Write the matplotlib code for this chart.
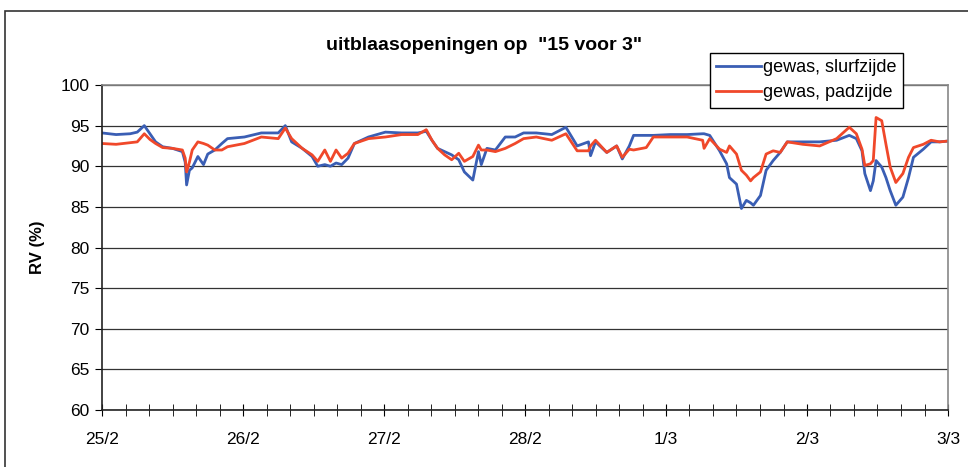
import matplotlib
matplotlib.use("Agg")
import matplotlib.pyplot as plt
from matplotlib.patches import Rectangle
from matplotlib.ticker import MultipleLocator

plt.rcParams['font.family'] = ['Liberation Sans', 'DejaVu Sans']

# time in days since 25/2 00:00
days = [0.00, 0.10, 0.20, 0.25, 0.30, 0.34, 0.38, 0.43, 0.50, 0.57, 0.59, 0.60, 0.62, 0.64,
        0.68, 0.72, 0.75, 0.80, 0.85, 0.89, 1.01, 1.13, 1.25, 1.30, 1.345, 1.42, 1.49, 1.53,
        1.58, 1.62, 1.66, 1.70, 1.745, 1.79, 1.89, 2.01, 2.125, 2.24, 2.30, 2.34, 2.38, 2.43,
        2.48, 2.53, 2.57, 2.63, 2.67, 2.69, 2.73, 2.79, 2.86, 2.93, 2.99, 3.08, 3.19, 3.29,
        3.37, 3.45, 3.465, 3.50, 3.58, 3.65, 3.69, 3.74, 3.77, 3.86, 3.91, 4.03, 4.15, 4.26,
        4.27, 4.31, 4.38, 4.43, 4.45, 4.50, 4.535, 4.57, 4.60, 4.62, 4.67, 4.71, 4.76, 4.81,
        4.86, 4.97, 5.09, 5.21, 5.30, 5.35, 5.39, 5.41, 5.45, 5.47, 5.49, 5.53, 5.56, 5.59,
        5.63, 5.68, 5.72, 5.755, 5.825, 5.88, 5.94, 6.00]

slurfzijde = [94.1, 93.9, 94.0, 94.2, 95.0, 94.0, 93.0, 92.4, 92.2, 91.8, 90.5, 87.7, 89.5, 89.8,
              91.2, 90.2, 91.5, 92.0, 92.8, 93.4, 93.6, 94.1, 94.1, 95.0, 93.0, 92.2, 91.2, 90.0,
              90.2, 90.0, 90.4, 90.2, 91.0, 92.8, 93.6, 94.2, 94.1, 94.1, 94.3, 93.2, 92.2, 91.8,
              91.4, 90.8, 89.3, 88.3, 91.8, 90.2, 92.2, 92.0, 93.6, 93.6, 94.1, 94.1, 93.9, 94.8,
              92.5, 93.0, 91.3, 93.0, 91.7, 92.5, 90.9, 92.5, 93.8, 93.8, 93.8, 93.9, 93.9, 94.0,
              94.0, 93.8, 91.9, 90.3, 88.6, 87.8, 84.8, 85.8, 85.5, 85.2, 86.4, 89.5, 90.7, 91.7,
              93.0, 93.0, 93.0, 93.2, 93.8, 93.4, 91.9, 89.1, 87.0, 88.2, 90.7, 89.9, 88.6, 87.0,
              85.2, 86.2, 88.6, 91.1, 92.1, 93.0, 93.0, 93.1]

padzijde = [92.8, 92.7, 92.9, 93.0, 94.0, 93.3, 92.8, 92.3, 92.2, 92.0, 91.0, 89.3, 90.5, 92.0,
            93.0, 92.8, 92.6, 92.0, 92.0, 92.4, 92.8, 93.6, 93.4, 94.7, 93.4, 92.2, 91.4, 90.6,
            92.0, 90.6, 92.0, 91.0, 91.6, 92.8, 93.4, 93.6, 93.9, 93.9, 94.5, 93.2, 92.2, 91.4,
            90.8, 91.6, 90.6, 91.2, 92.6, 92.0, 92.0, 91.8, 92.2, 92.8, 93.4, 93.6, 93.2, 94.0,
            91.9, 91.9, 92.5, 93.2, 91.7, 92.5, 91.1, 92.1, 92.0, 92.3, 93.6, 93.6, 93.6, 93.2,
            92.2, 93.4, 92.1, 91.7, 92.5, 91.5, 89.5, 88.9, 88.2, 88.6, 89.3, 91.5, 91.9, 91.7,
            93.0, 92.7, 92.5, 93.4, 94.8, 94.0, 92.1, 90.1, 90.3, 90.7, 96.0, 95.6, 92.7, 89.9,
            88.0, 89.1, 91.1, 92.3, 92.7, 93.2, 93.0, 93.1]

day_labels = ["25/2", "26/2", "27/2", "28/2", "1/3", "2/3", "3/3"]
series_names = ["gewas, slurfzijde", "gewas, padzijde"]

fig = plt.figure(figsize=(9.68, 4.67), dpi=100)
ax = fig.add_axes([102 / 968, 1 - 410 / 467, 846 / 968, 325 / 467])

# outer chart border (only left and top visible)
fig.patches.append(Rectangle((5 / 968, -0.2), 2, 1.2 - 11 / 467, transform=fig.transFigure,
                             fill=False, edgecolor="#333333", linewidth=1.2))

ax.plot(days, slurfzijde, color="#3a5eb4", lw=2, label=series_names[0])
ax.plot(days, padzijde, color="#f0482a", lw=2, label=series_names[1])

ax.set_xlim(0, 6)
ax.set_ylim(60, 100)
ax.yaxis.set_major_locator(MultipleLocator(5))
ax.set_xticks(range(7))
ax.set_xticklabels(day_labels)
ax.xaxis.set_minor_locator(MultipleLocator(1 / 6))
ax.grid(True, axis="y", color="#333333", lw=0.9)
ax.set_axisbelow(True)

for s in ["top", "right"]:
    ax.spines[s].set_color("#888888")
    ax.spines[s].set_linewidth(1.2)
for s in ["left", "bottom"]:
    ax.spines[s].set_color("#222222")
    ax.spines[s].set_linewidth(1.2)

ax.tick_params(axis="y", direction="out", length=5, labelsize=12.5, pad=4)
ax.tick_params(axis="x", which="major", direction="inout", length=9, labelsize=12.5, pad=11)
ax.tick_params(axis="x", which="minor", direction="inout", length=8)

ax.set_ylabel("RV (%)", fontsize=12, fontweight="bold", labelpad=11)
fig.text(484 / 968, 1 - 45 / 467, 'uitblaasopeningen op  "15 voor 3"', ha="center", va="center",
         fontsize=14, fontweight="bold")

leg = ax.legend(loc="upper left", bbox_to_anchor=(710 / 968, 1 - 53 / 467),
                bbox_transform=fig.transFigure, fontsize=13, frameon=True, fancybox=False,
                borderpad=0.35, handlelength=2.5, handletextpad=0.1, labelspacing=0.45,
                borderaxespad=0)
leg.get_frame().set_edgecolor("black")
leg.get_frame().set_linewidth(1)
leg.get_frame().set_alpha(1)

fig.savefig("out.png", dpi=100)
